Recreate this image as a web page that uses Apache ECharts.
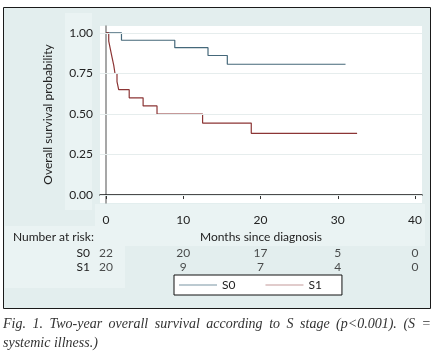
<!DOCTYPE html>
<html>
<head>
<meta charset="utf-8">
<script src="https://cdn.jsdelivr.net/npm/echarts@6/dist/echarts.min.js"></script>
<style>
html, body { margin: 0; padding: 0; background: #fff; }
#chart { width: 436px; height: 360px; }
</style>
</head>
<body>
<div id="chart"></div>
<script>
// Kaplan-Meier steps (months, survival)
const s0Months = [0, 2.0, 8.9, 13.2, 15.7, 31.0];
const s0Surv = [1, 0.955, 0.909, 0.861, 0.807, 0.807];
const s1Months = [0, 0.35, 0.56, 0.78, 1.0, 1.16, 1.42, 1.64, 3.0, 4.8, 6.6, 12.5, 18.8, 32.5];
const s1Surv = [1, 0.95, 0.90, 0.85, 0.80, 0.75, 0.70, 0.65, 0.60, 0.55, 0.50, 0.444, 0.381, 0.381];

const xTicks = [0, 10, 20, 30, 40];
const yTicks = [0, 0.25, 0.5, 0.75, 1];

// number at risk table
const riskGroups = ['S0', 'S1'];
const riskTimes = [0, 10, 20, 30, 40];
const riskS0 = [22, 20, 17, 5, 0];
const riskS1 = [20, 9, 7, 4, 0];

const captionLines = [
    'Fig. 1. Two-year overall survival according to S stage (p<0.001). (S =',
    'systemic illness.)'
];

const FONT = 'Lato';
const textColor = '#222';

const chart = echarts.init(document.getElementById('chart'));

// justified italic caption, one text element per word
const captionFont = 'italic 14px "Liberation Serif"';
const ctx = document.createElement('canvas').getContext('2d');
ctx.font = captionFont;
const captionLeft = 3, captionRight = 431;
const captionWords = (line, y, justify) => {
    const words = line.split(' ');
    const widths = words.map(w => ctx.measureText(w).width);
    const total = widths.reduce((a, b) => a + b, 0);
    const gap = justify ? (captionRight - captionLeft - total) / (words.length - 1) : ctx.measureText(' ').width;
    let x = captionLeft;
    return words.map((w, i) => {
        const el = {
            type: 'text', x: x, y: y,
            style: { text: w, font: captionFont, fill: '#333', verticalAlign: 'middle' }
        };
        x += widths[i] + gap;
        return el;
    });
};

const xRange = { min: -0.78, max: 40.9 };

const option = {
    animation: false,
    backgroundColor: '#fff',
    textStyle: { fontFamily: FONT },
    graphic: [
        { type: 'rect', z: -10, shape: { x: 3.5, y: 7.5, width: 427, height: 301 },
          style: { fill: '#e3eeee', stroke: '#1a1a1a', lineWidth: 1 } },
        { type: 'rect', z: -9, shape: { x: 65, y: 13, width: 27, height: 197 },
          style: { fill: '#eaf3f3' } },
        { type: 'rect', z: -9, shape: { x: 95, y: 204, width: 330, height: 42 },
          style: { fill: '#eaf3f3' } },
        { type: 'rect', z: -9, shape: { x: 5, y: 226, width: 120, height: 62 },
          style: { fill: '#eaf3f3' } },
        { type: 'text', x: 13, y: 237,
          style: { text: 'Number at risk:', font: '12px ' + FONT, fill: textColor, verticalAlign: 'middle' } }
    ].concat(
        captionWords(captionLines[0], 324, true),
        captionWords(captionLines[1], 343, false)
    ),
    legend: {
        data: [{ name: 'S0', icon: 'rect' }, { name: 'S1', icon: 'rect' }],
        left: 174, top: 275,
        orient: 'horizontal',
        itemWidth: 38, itemHeight: 1, itemGap: 30,
        padding: [3, 20, 3, 5],
        borderColor: '#111', borderWidth: 1, borderRadius: 0,
        backgroundColor: '#fff',
        textStyle: { fontSize: 12, color: textColor, fontFamily: FONT, lineHeight: 14 }
    },
    grid: [
        { left: 100, top: 26, width: 322, height: 177, show: true, backgroundColor: '#fff', borderWidth: 0 },
        { left: 100, top: 246, width: 322, height: 28 }
    ],
    xAxis: [
        {
            type: 'value', gridIndex: 0, min: xRange.min, max: xRange.max,
            axisLine: { show: true, lineStyle: { color: '#111', width: 1.5 } },
            axisTick: { show: true, customValues: xTicks, length: 4, lineStyle: { color: '#333' } },
            axisLabel: { customValues: xTicks, margin: 11, fontSize: 12, color: textColor },
            splitLine: { show: false },
            name: 'Months since diagnosis', nameLocation: 'middle', nameGap: 28,
            nameTextStyle: { fontSize: 12, color: textColor }
        },
        {
            type: 'value', gridIndex: 1, min: xRange.min, max: xRange.max, show: false
        }
    ],
    yAxis: [
        {
            type: 'value', gridIndex: 0, min: -0.049, max: 1.043,
            axisLine: { show: true, lineStyle: { color: '#8a8a8a', width: 1.5 } },
            axisTick: { show: true, customValues: yTicks, length: 4, lineStyle: { color: '#333' } },
            axisLabel: { customValues: yTicks, margin: 7, fontSize: 12, color: textColor,
                         formatter: v => v.toFixed(2) },
            splitLine: { show: false },
            name: 'Overall survival probability', nameLocation: 'middle', nameGap: 46,
            nameTextStyle: { fontSize: 12, color: textColor }
        },
        {
            type: 'category', gridIndex: 1, data: riskGroups, inverse: true,
            axisLine: { show: false }, axisTick: { show: false },
            axisLabel: { interval: 0, margin: 10, fontSize: 12, color: textColor }
        }
    ],
    series: [
        {
            name: 'gridlines', type: 'line', data: [], z: 1, silent: true,
            markLine: {
                silent: true, symbol: ['none', 'none'], label: { show: false },
                lineStyle: { color: '#e6eded', type: 'solid', width: 1 },
                data: yTicks.map(v => ({ yAxis: v }))
            }
        },
        {
            name: 'S0', type: 'line', step: 'end', symbol: 'none',
            data: s0Months.map((t, i) => [t, s0Surv[i]]),
            lineStyle: { color: '#45687a', width: 1.2 }, itemStyle: { color: '#7b95a4' }
        },
        {
            name: 'S1', type: 'line', step: 'end', symbol: 'none',
            data: s1Months.map((t, i) => [t, s1Surv[i]]),
            lineStyle: { color: '#8c3535', width: 1.2 }, itemStyle: { color: '#c49a9a' }
        },
        {
            name: 'risk', type: 'scatter', xAxisIndex: 1, yAxisIndex: 1, symbolSize: 0, silent: true,
            data: riskTimes.map((t, i) => [t, 'S0', riskS0[i]])
                .concat(riskTimes.map((t, i) => [t, 'S1', riskS1[i]])),
            label: { show: true, position: 'inside', formatter: p => String(p.value[2]),
                     fontSize: 12, color: textColor, fontFamily: FONT }
        }
    ]
};

chart.setOption(option);
</script>
</body>
</html>
